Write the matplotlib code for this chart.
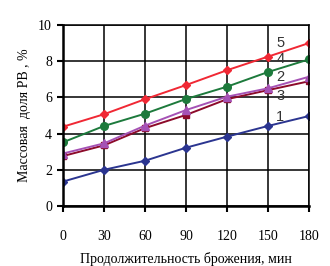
import matplotlib
matplotlib.use("Agg")
import matplotlib.pyplot as plt

minutes = [0, 30, 60, 90, 120, 150, 180]
s1 = [1.35, 2.0, 2.5, 3.22, 3.83, 4.42, 4.97]
s2 = [2.9, 3.46, 4.44, 5.3, 6.04, 6.5, 7.14]
s3 = [2.76, 3.35, 4.3, 5.03, 5.9, 6.4, 6.89]
s4 = [3.52, 4.42, 5.1, 5.91, 6.59, 7.4, 8.1]
s5 = [4.38, 5.07, 5.9, 6.68, 7.5, 8.25, 9.0]

series = [
    ("1", s1, "#2b3590", "D", 4.5),
    ("3", s3, "#8c0a2a", "s", 5),
    ("2", s2, "#a552b5", "^", 5.5),
    ("4", s4, "#1d7a3c", "o", 5.5),
    ("5", s5, "#f02834", "D", 4.5),
]
label_pos = {"5": 9.0, "4": 8.1, "2": 7.1, "3": 6.1, "1": 4.9}

fig = plt.figure(figsize=(3.3, 2.66), dpi=100)
ax = fig.add_axes([0.191, 0.2256, 0.745, 0.6804])

for name, vals, color, marker, ms in series:
    ax.plot(minutes, vals, color=color, marker=marker, markersize=ms, lw=1.4)

for name, y in label_pos.items():
    ax.text(159, y, name, fontsize=10.5, family="Liberation Sans",
            ha="center", va="center", color="#333333")

ax.set_xlim(0, 180)
ax.set_ylim(0, 10)
ax.set_xticks(minutes)
ax.set_yticks([0, 2, 4, 6, 8, 10])
ax.grid(True, color="black", lw=1.1)
ax.set_axisbelow(True)
for side in ["top", "right"]:
    ax.spines[side].set_linewidth(1.1)
for side in ["left", "bottom"]:
    ax.spines[side].set_linewidth(1.8)
ax.tick_params(axis="x", direction="out", length=4, width=1.5, pad=13,
               labelsize=10)
ax.tick_params(axis="y", direction="out", length=4, width=1.5, pad=4,
               labelsize=10)
for lab in ax.get_xticklabels() + ax.get_yticklabels():
    lab.set_family("Liberation Serif")

ax.set_xlabel("Продолжительность брожения, мин", family="Liberation Serif",
              fontsize=10, labelpad=7)
ax.set_ylabel("Массовая  доля РВ , %", family="Liberation Serif",
              fontsize=10, labelpad=5)

fig.savefig("out.png", dpi=100)
